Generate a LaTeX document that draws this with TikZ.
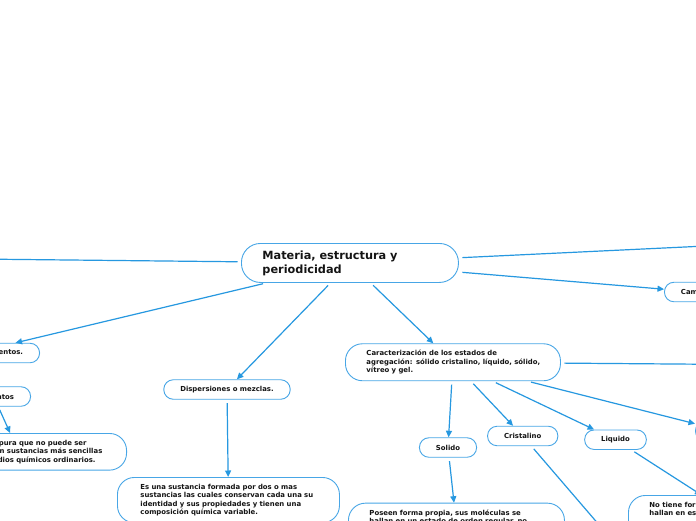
\documentclass[tikz,border=0pt]{standalone}
\usepackage{fontspec}
\setmainfont{DejaVu Sans}
\usetikzlibrary{arrows.meta}
\definecolor{lineblue}{RGB}{38,152,224}
\definecolor{boxblue}{RGB}{72,166,230}
\definecolor{txt}{RGB}{20,20,20}
\newcommand\fsmall{\fontsize{6.9pt}{8.6pt}\selectfont\bfseries}
\newcommand\fbig{\fontsize{11.3pt}{14pt}\selectfont\bfseries}
\newcommand\tline[1]{\mbox{#1}}
\tikzset{
  conn/.style={draw=lineblue, line width=1.2pt, shorten <=3.5pt},
  arr/.style={conn, -{Triangle[length=6.5pt,width=6pt]}},
  pill/.style={draw=boxblue, line width=0.9pt, fill=white, rounded corners=9.5pt,
    minimum height=19.5pt, inner xsep=16.5pt, inner ysep=0pt, font=\fsmall, text=txt},
  tbox/.style={draw=boxblue, line width=0.9pt, fill=white, rounded corners=17pt,
    text width=174pt, inner xsep=21pt, inner ysep=6.4pt, align=left, font=\fsmall, text=txt},
}
\begin{document}
\begin{tikzpicture}[x=1pt,y=-1pt]
\fill[white] (0,0) rectangle (696,520);
\useasboundingbox (0,0) rectangle (696,520);
\clip (0,0) rectangle (696,520);

% central node
\node[tbox, font=\fbig, text width=175pt, minimum height=39pt, rounded corners=19pt,
  anchor=north west] (c) at (241,243) {\tline{Materia, estructura y}\\\tline{periodicidad}};

% off-picture ends
\coordinate (offL) at (-120,258);
\coordinate (offR) at (800,241.5);
\coordinate (offR2) at (800,365);
\coordinate (offB) at (640,572.5);

% left branch
\node[pill, anchor=east] (e1) at (40,353) {Compuestos y elementos.};
\node[pill, anchor=east] (e2) at (31,396.5) {Elementos};
\node[tbox, anchor=north east, minimum height=36pt] (d1) at (127,433)
  {\tline{Es una sustancia pura que no puede ser}\\
   \tline{descomponerse en sustancias más sencillas}\\
   \tline{utilizando los medios químicos ordinarios.}};

% middle branch
\node[pill] (disp) at (227,389.5) {Dispersiones o mezclas.};
\node[tbox, text width=176pt, inner xsep=23pt, anchor=north west] (mix) at (117,477)
  {\tline{Es una sustancia formada por dos o mas}\\
   \tline{sustancias las cuales conservan cada una su}\\
   \tline{identidad y sus propiedades y tienen una}\\
   \tline{composición química variable.}};

% right branch
\node[tbox, text width=173pt, anchor=north west] (car) at (345,343.3)
  {\tline{Caracterización de los estados de}\\
   \tline{agregación: sólido cristalino, líquido, sólido,}\\
   \tline{vítreo y gel.}};
\node[pill, anchor=west] (cam) at (664,292) {Cambios};
\node[pill] (sol) at (448,447.5) {Solido};
\node[pill] (cri) at (522.7,436) {Cristalino};
\node[pill] (liq) at (615.5,439.7) {Liquido};
\node[pill, anchor=west] (vit) at (695,431) {Vítreo};
\node[tbox, anchor=north west] (pos) at (348,502.7)
  {\tline{Poseen forma propia, sus moléculas se}\\
   \tline{hallan en un estado de orden regular, no}\\
   \mbox{}\\ \mbox{}};
\node[tbox, anchor=north west] (noT) at (628,495)
  {\tline{No tiene forma propia, sus moléculas se}\\
   \tline{hallan en estado de desorden relativo.}\\
   \mbox{}\\ \mbox{}};

% connectors
\draw[arr] (c) -- (offL);
\draw[arr] (c) -- (offR);
\draw[arr] (c) -- (cam);
\draw[arr] (c) -- (e1);
\draw[arr] (c) -- (disp);
\draw[arr] (c) -- (car);
\draw[arr] (e2) -- (d1);
\draw[arr] (disp) -- (mix);
\draw[arr] (car) -- (offR2);
\draw[arr] (car) -- (sol);
\draw[arr] (car) -- (cri);
\draw[arr] (car) -- (liq);
\draw[arr] (car) -- (vit);
\draw[arr] (sol) -- (pos);
\draw[arr] (cri) -- (offB);
\draw[arr] (liq) -- (noT);
\end{tikzpicture}
\end{document}
